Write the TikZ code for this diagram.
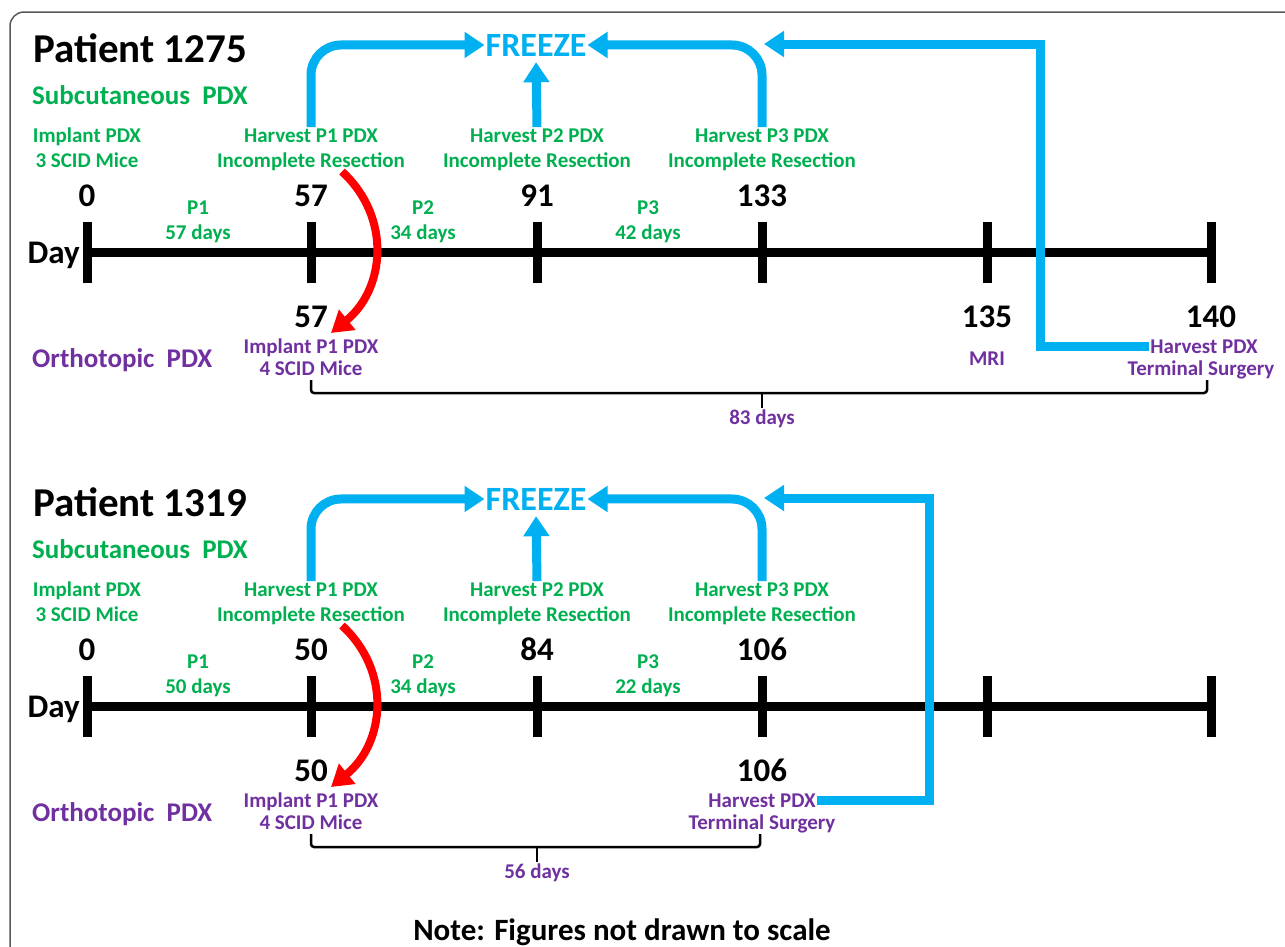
\documentclass[tikz,border=0pt]{standalone}
\usepackage{fontspec}
\setmainfont{Carlito}
\usetikzlibrary{arrows.meta}

\definecolor{pdxgreen}{HTML}{00B050}
\definecolor{pdxpurple}{HTML}{7030A0}
\definecolor{pdxblue}{HTML}{00B0F0}
\definecolor{framegray}{HTML}{595959}

\tikzset{
  lbl/.style={inner sep=1pt, anchor=base, font=\fontsize{21}{24}\selectfont\bfseries},
  subq/.style={lbl, text=pdxgreen},
  orth/.style={lbl, text=pdxpurple},
  daynum/.style={inner sep=1pt, anchor=base, font=\fontsize{33}{34}\selectfont\bfseries},
  patient/.style={inner sep=0pt, anchor=base west, font=\fontsize{41}{42}\selectfont\bfseries},
  route/.style={inner sep=0pt, anchor=base west, font=\fontsize{27}{28}\selectfont\bfseries},
  freeze/.style={inner sep=1pt, anchor=base, text=pdxblue, font=\fontsize{34}{34}\selectfont\bfseries},
  axis/.style={line width=9pt},
  tickmark/.style={line width=9pt},
  frz/.style={pdxblue, line width=9pt, -{Triangle[length=20pt,width=25pt]}},
  redarr/.style={red, line width=8pt, -{Triangle[length=21pt,width=25pt]}},
  brace/.style={line width=2.5pt, rounded corners=3pt}
}

\begin{document}
\begin{tikzpicture}[x=1pt,y=-1pt]
\useasboundingbox (0,0) rectangle (1285,946);
\draw[framegray, line width=1.5pt, rounded corners=14pt] (10,12) rectangle (1300,960);

% ---- Patient 1275 ----
\node[patient] (pA) at (33,62) {Patient 1275};
\node[route, text=pdxgreen] (scA) at (32,104) {Subcutaneous\ \ PDX};
\node[route, text=pdxpurple] (orA) at (32,367) {Orthotopic\ \ PDX};

\draw[axis] (87,252) -- (1211,252);
\foreach \x in {87,311,537,762,987,1211}
  \draw[tickmark] (\x,222) -- (\x,283);
\node[daynum, anchor=base east] (dayA) at (81,263) {Day};

\node[subq] (imA1) at (87,142) {Implant PDX};
\node[subq] (imA2) at (87,167) {3 SCID Mice};
\node[subq] (hvA1) at (311,142) {Harvest P1 PDX};
\node[subq] (irA1) at (311,167) {Incomplete Resection};
\node[subq] (hvA2) at (537,142) {Harvest P2 PDX};
\node[subq] (irA2) at (537,167) {Incomplete Resection};
\node[subq] (hvA3) at (762,142) {Harvest P3 PDX};
\node[subq] (irA3) at (762,167) {Incomplete Resection};

\node[daynum] (nA0) at (87,206) {0};
\node[daynum] (nA1) at (311,206) {57};
\node[daynum] (nA2) at (537,206) {91};
\node[daynum] (nA3) at (762,206) {133};

\node[subq] (pA1) at (198,214) {P1};
\node[subq] (lA1) at (198,239) {57 days};
\node[subq] (pA2) at (423,214) {P2};
\node[subq] (lA2) at (423,239) {34 days};
\node[subq] (pA3) at (648,214) {P3};
\node[subq] (lA3) at (648,239) {42 days};

\node[daynum] (oA1) at (311,327) {57};
\node[orth] (otA1) at (311,353) {Implant P1 PDX};
\node[orth] (otA2) at (311,375) {4 SCID Mice};
\node[daynum] (oA2) at (987,327) {135};
\node[orth] (mriA) at (987,365) {MRI};
\node[daynum] (oA3) at (1211,327) {140};
\node[orth] (hxA) at (1204,353) {Harvest PDX};
\node[orth] (tsA) at (1201,375) {Terminal Surgery};

\draw[brace] (311,380) |- (1207,393) -- (1207,380);
\node[orth] (dyA) at (762,424) {83 days};
\draw[brace] (762,393) -- (dyA.north);

\node[freeze] (fzA) at (536,56) {FREEZE};
\draw[frz, rounded corners=30pt] (hvA1.north) |- (fzA.west);
\draw[frz, shorten >=5pt] (hvA2.north) -- (fzA.south);
\draw[frz, rounded corners=30pt] (hvA3.north) |- (fzA.east);
\coordinate (bkA) at (1040,44);
\coordinate (tipA) at (764,44);
\draw[frz] (hxA.west) -| (bkA) -- (tipA);

\coordinate (rtA) at (331,333);
\draw[redarr] ([xshift=31pt]irA1.south) .. controls +(50,46) and +(54,-44) .. (rtA);

% ---- Patient 1319 ----
\begin{scope}[shift={(0,454)}]
\node[patient] (pB) at (33,62) {Patient 1319};
\node[route, text=pdxgreen] (scB) at (32,104) {Subcutaneous\ \ PDX};
\node[route, text=pdxpurple] (orB) at (32,367) {Orthotopic\ \ PDX};

\draw[axis] (87,252) -- (1211,252);
\foreach \x in {87,311,537,762,987,1211}
  \draw[tickmark] (\x,222) -- (\x,283);
\node[daynum, anchor=base east] (dayB) at (81,263) {Day};

\node[subq] (imB1) at (87,142) {Implant PDX};
\node[subq] (imB2) at (87,167) {3 SCID Mice};
\node[subq] (hvB1) at (311,142) {Harvest P1 PDX};
\node[subq] (irB1) at (311,167) {Incomplete Resection};
\node[subq] (hvB2) at (537,142) {Harvest P2 PDX};
\node[subq] (irB2) at (537,167) {Incomplete Resection};
\node[subq] (hvB3) at (762,142) {Harvest P3 PDX};
\node[subq] (irB3) at (762,167) {Incomplete Resection};

\node[daynum] (nB0) at (87,206) {0};
\node[daynum] (nB1) at (311,206) {50};
\node[daynum] (nB2) at (537,206) {84};
\node[daynum] (nB3) at (762,206) {106};

\node[subq] (pB1) at (198,214) {P1};
\node[subq] (lB1) at (198,239) {50 days};
\node[subq] (pB2) at (423,214) {P2};
\node[subq] (lB2) at (423,239) {34 days};
\node[subq] (pB3) at (648,214) {P3};
\node[subq] (lB3) at (648,239) {22 days};

\node[daynum] (oB1) at (311,327) {50};
\node[orth] (otB1) at (311,353) {Implant P1 PDX};
\node[orth] (otB2) at (311,375) {4 SCID Mice};
\node[daynum] (oB2) at (762,327) {106};
\node[orth] (hxB) at (762,353) {Harvest PDX};
\node[orth] (tsB) at (762,375) {Terminal Surgery};

\draw[brace] (311,380) |- (760,393) -- (760,380);
\node[orth] (dyB) at (537,424) {56 days};
\draw[brace] (537,393) -- (dyB.north);

\node[freeze] (fzB) at (536,56) {FREEZE};
\draw[frz, rounded corners=30pt] (hvB1.north) |- (fzB.west);
\draw[frz, shorten >=5pt] (hvB2.north) -- (fzB.south);
\draw[frz, rounded corners=30pt] (hvB3.north) |- (fzB.east);
\coordinate (bkB) at (929,44);
\coordinate (tipB) at (764,44);
\draw[frz] (hxB.east) -| (bkB) -- (tipB);

\coordinate (rtB) at (331,333);
\draw[redarr] ([xshift=31pt]irB1.south) .. controls +(50,46) and +(54,-44) .. (rtB);
\end{scope}

\node[inner sep=1pt, anchor=base, font=\fontsize{31}{32}\selectfont\bfseries] (note) at (622,940) {Note: Figures not drawn to scale};
\end{tikzpicture}
\end{document}
